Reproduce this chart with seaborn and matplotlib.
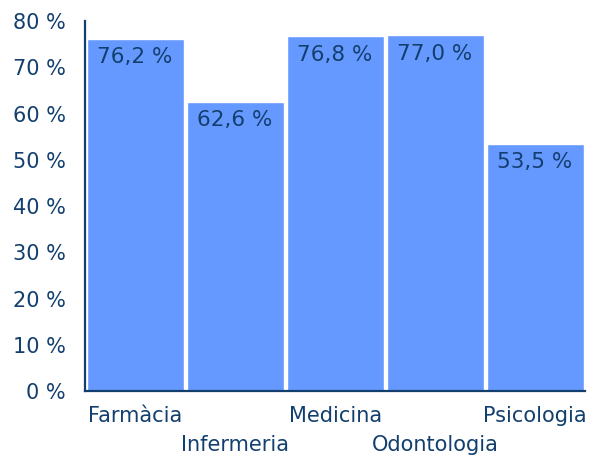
import pandas as pd
import matplotlib.pyplot as plt
import seaborn as sns

# data
carreres = ['Farmàcia', 'Infermeria', 'Medicina', 'Odontologia', 'Psicologia']
valors = [76.2, 62.6, 76.8, 77.0, 53.5]

df = pd.DataFrame({'carrera': carreres, 'valor': valors})

sns.set_theme(style="white")
plt.rcParams['font.family'] = ['DejaVu Sans']

navy = '#123f6e'
blau = '#6699ff'

fig = plt.figure(figsize=(5.91, 4.58), dpi=100)
ax = fig.add_axes([0.144, 0.146, 0.846, 0.808])

sns.barplot(x='carrera', y='valor', data=df, color=blau, width=0.97,
            saturation=1, ax=ax)

# value labels inside the bars
for i, v in enumerate(valors):
    ax.annotate(f'{v:.1f} %'.replace('.', ','), (i, v), xytext=(0, -13.5),
                textcoords='offset points', ha='center', va='center',
                fontsize=15.5, color=navy)

ax.set_ylim(0, 80)
ax.set_xlim(-0.5, 4.5)
ax.set_yticks(range(0, 81, 10))
ax.set_yticklabels([f'{t} %' for t in range(0, 81, 10)])
ax.set_xticks(range(len(carreres)))
ax.set_xticklabels(carreres)
ax.tick_params(axis='both', length=0, labelsize=15, labelcolor=navy)
ax.tick_params(axis='y', pad=14)
ax.tick_params(axis='x', pad=11)
# staggered category labels
for i, lab in enumerate(ax.get_xticklabels()):
    if i % 2 == 1:
        lab.set_y(-0.0785)
ax.set_xlabel('')
ax.set_ylabel('')

for s in ['top', 'right']:
    ax.spines[s].set_visible(False)
for s in ['left', 'bottom']:
    ax.spines[s].set_color(navy)
    ax.spines[s].set_linewidth(1.6)

fig.savefig('out.png', dpi=100)
